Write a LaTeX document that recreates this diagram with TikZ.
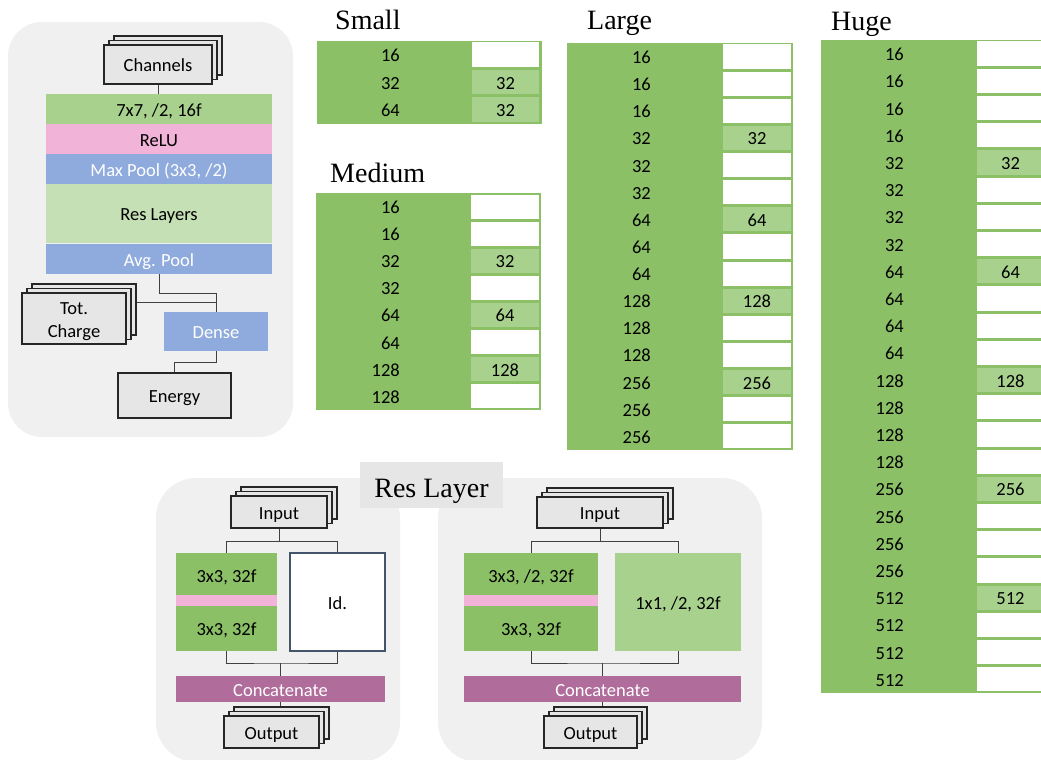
\documentclass[tikz,border=0pt]{standalone}
\usepackage{fontspec}
\setmainfont{Carlito}
\newfontfamily\titlefont{Liberation Serif}
\usetikzlibrary{shadows,calc}
\definecolor{tgreen}{RGB}{139,192,102}
\definecolor{lgreen}{RGB}{169,209,142}
\definecolor{pgreen}{RGB}{197,224,180}
\definecolor{bblue}{RGB}{143,170,220}
\definecolor{ppink}{RGB}{241,179,216}
\definecolor{mauve}{RGB}{176,108,154}
\definecolor{panelgray}{RGB}{240,240,240}
\definecolor{boxgray}{RGB}{231,230,230}
\definecolor{idborder}{RGB}{68,84,106}
\pgfdeclarelayer{back}
\pgfdeclarelayer{conn}
\pgfsetlayers{back,conn,main}
\tikzset{
  txt/.style={inner sep=0pt, font=\fontsize{18.5}{22.5}\selectfont, text height=14pt, text depth=0pt},
  mtxt/.style={inner sep=0pt, font=\fontsize{18.5}{22.5}\selectfont, align=center},
  bar/.style={txt, minimum width=#1, outer sep=0pt, draw=none},
  stack/.style={txt, draw=black!85, line width=1.2pt, fill=boxgray,
    general shadow={shadow xshift=10pt, shadow yshift=9pt, fill=boxgray, draw=black!85, line width=1.2pt},
    general shadow={shadow xshift=5pt, shadow yshift=4.5pt, fill=boxgray, draw=black!85, line width=1.2pt}},
  plain/.style={txt, draw=black!85, line width=1.2pt, fill=boxgray},
  conn/.style={draw=black!75, line width=1pt},
  panel/.style={fill=panelgray, rounded corners=34pt, inner sep=0pt, draw=none},
  ttl/.style={inner sep=0pt, font=\titlefont\fontsize{28}{32}\selectfont},
}
\newcommand{\gtab}[9]{%
  \foreach \v/\c [count=\i from 0] in {#9} {%
    \pgfmathsetmacro{\yt}{#4+\i*#5}%
    \pgfmathsetmacro{\yb}{\yt+#5}%
    \pgfmathsetmacro{\ym}{\yt+#5/2}%
    \fill[tgreen] (#2,\yt) rectangle (#3,\yb+0.4);
    \ifnum\c=0
      \fill[white] (#6,\yt+1.5) rectangle (#7,\yb-1.5);
    \else
      \fill[lgreen] (#6,\yt+1.5) rectangle (#7,\yb-1.5);
      \node[txt] (#1r\i) at ({(#6+#7)/2},\ym) {\c};
    \fi
    \node[txt,anchor=east] (#1l\i) at (#8,\ym) {\v};
  }%
}
\begin{document}
\begin{tikzpicture}[x=1pt,y=-1pt]
\useasboundingbox (0,0) rectangle (1041,760);
\clip (0,0) rectangle (1041,760);
% ---------- top-left network ----------
\begin{pgfonlayer}{back}
\node[panel, minimum width=285pt, minimum height=415pt] (pnl) at (150.5,229.5) {};
\node[panel, minimum width=244pt, minimum height=284pt, rounded corners=40pt] (pnlL) at (278,620) {};
\node[panel, minimum width=324pt, minimum height=284pt, rounded corners=40pt] (pnlR) at (600,620) {};
\end{pgfonlayer}
\node[stack, minimum width=108pt, minimum height=39pt] (chan) at (158,64.5) {Channels};
\node[bar=226pt, minimum height=30pt, fill=lgreen] (conv) at (159,109) {7x7, /2, 16f};
\node[bar=226pt, minimum height=30pt, fill=ppink] (relu) at (159,139) {ReLU};
\node[bar=226pt, minimum height=30pt, fill=bblue, text=white] (maxp) at (159,169) {Max Pool (3x3, /2)};
\node[bar=226pt, minimum height=59pt, fill=pgreen] (resl) at (159,213.5) {Res Layers};
\node[bar=226pt, minimum height=30pt, fill=bblue, text=white] (avgp) at (159,259) {Avg. Pool};
\node[stack, minimum width=104pt, minimum height=51pt] (tot) at (74,318.5) {};
\node[mtxt] (totT) at (74,321.5) {Tot.\\Charge};
\node[bar=104pt, minimum height=39pt, fill=bblue, text=white] (dense) at (216,331.5) {Dense};
\node[plain, minimum width=113pt, minimum height=45pt] (energy) at (174.5,395.5) {Energy};
\begin{pgfonlayer}{conn}
\draw[conn] (chan.south) -- (chan.south |- conv.north);
\draw[conn] (avgp.south) -- ++(0,19) -| (dense.north);
\coordinate (tj) at ($(dense.north)+(0,-10)$);
\draw[conn] (tj) -- (tj -| tot.east);
\draw[conn] (dense.south) -- ++(0,11) -| (energy.north);
\end{pgfonlayer}
% ---------- tables ----------
\node[ttl, anchor=base west] (tsmall) at (335,30) {Small};
\node[ttl, anchor=base west] (tmedium) at (330,182) {Medium};
\node[ttl, anchor=base west] (tlarge) at (587,30) {Large};
\node[ttl, anchor=base west] (thuge) at (831,31) {Huge};
\gtab{S}{317}{542}{41}{27.4}{472}{539}{400}{16/0,32/32,64/32}
\gtab{M}{316}{541}{193}{27.1}{471}{539}{400}{16/0,16/0,32/32,32/0,64/64,64/0,128/128,128/0}
\gtab{L}{567}{792.5}{43}{27.13}{723}{791}{651}{16/0,16/0,16/0,32/32,32/0,32/0,64/64,64/0,64/0,128/128,128/0,128/0,256/256,256/0,256/0}
\gtab{H}{821}{1047}{40}{27.2}{977}{1044}{904}{16/0,16/0,16/0,16/0,32/32,32/0,32/0,32/0,64/64,64/0,64/0,64/0,128/128,128/0,128/0,128/0,256/256,256/0,256/0,256/0,512/512,512/0,512/0,512/0}
% ---------- Res Layer ----------
\node[fill=boxgray, minimum width=143pt, minimum height=46pt, inner sep=0pt] (rlbox) at (431.5,485) {};
\node[ttl, anchor=base] (rltxt) at (431.5,497) {Res Layer};
% left block
\node[stack, minimum width=96pt, minimum height=32pt] (inL) at (279,512) {Input};
\node[bar=101pt, minimum height=44pt, fill=tgreen] (cL1) at (226.5,575) {3x3, 32f};
\node[bar=101pt, minimum height=9pt, fill=ppink] (pL) at (226.5,601.5) {};
\node[bar=101pt, minimum height=45pt, fill=tgreen] (cL2) at (226.5,628.5) {3x3, 32f};
\node[txt, minimum width=95pt, minimum height=98pt, fill=white, draw=idborder, line width=1.2pt] (idL) at (337.5,602) {Id.};
\node[bar=209pt, minimum height=26pt, fill=mauve, text=white] (concL) at (280.5,689) {Concatenate};
\node[stack, minimum width=95pt, minimum height=32pt] (outL) at (271.5,732) {Output};
% right block
\node[stack, minimum width=126pt, minimum height=31pt] (inR) at (600,512.5) {Input};
\node[bar=134pt, minimum height=44pt, fill=tgreen] (cR1) at (531,575) {3x3, /2, 32f};
\node[bar=134pt, minimum height=9pt, fill=ppink] (pR) at (531,601.5) {};
\node[bar=134pt, minimum height=45pt, fill=tgreen] (cR2) at (531,628.5) {3x3, 32f};
\node[bar=126pt, minimum height=98pt, fill=lgreen] (oneR) at (678,602) {1x1, /2, 32f};
\node[bar=277pt, minimum height=26pt, fill=mauve, text=white] (concR) at (602.5,689) {Concatenate};
\node[stack, minimum width=93pt, minimum height=32pt] (outR) at (590.5,732) {Output};
\begin{pgfonlayer}{conn}
\draw[conn] (inL.south) -- ++(0,13) coordinate (jL);
\draw[conn] (cL1.north) |- (jL) -| (idL.north);
\coordinate (kL) at ($(concL.north)+(0,-13)$);
\draw[conn] (cL2.south) |- (kL) -| (idL.south);
\draw[conn] (kL) -- (concL.north);
\draw[conn] (concL.south) -- (concL.south |- outL.north);
\draw[conn] (inR.south) -- ++(0,13) coordinate (jR);
\draw[conn] (cR1.north) |- (jR) -| (oneR.north);
\coordinate (kR) at ($(concR.north)+(0,-13)$);
\draw[conn] (cR2.south) |- (kR) -| (oneR.south);
\draw[conn] (kR) -- (concR.north);
\draw[conn] (concR.south) -- (concR.south |- outR.north);
\end{pgfonlayer}
\end{tikzpicture}
\end{document}
